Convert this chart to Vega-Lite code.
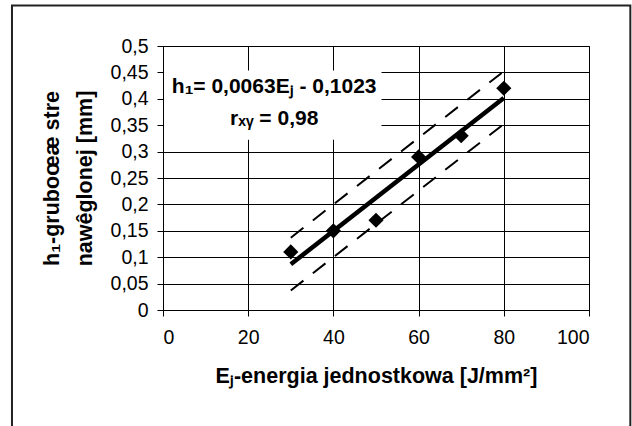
{
  "$schema": "https://vega.github.io/schema/vega-lite/v6.json",
  "width": 426,
  "height": 264,
  "autosize": "none",
  "padding": {"left": 163, "top": 46, "right": 43, "bottom": 116},
  "background": "white",
  "config": {
    "view": {"stroke": "black", "strokeWidth": 1},
    "font": "Liberation Sans",
    "axis": {
      "grid": true,
      "gridColor": "black",
      "gridOpacity": 1,
      "gridWidth": 1,
      "domainColor": "black",
      "domainWidth": 1,
      "tickColor": "black",
      "tickWidth": 1,
      "tickSize": 6,
      "labelColor": "black",
      "labelFont": "Liberation Sans",
      "labelFontSize": 19.5,
      "labelFontWeight": "normal",
      "titleColor": "black",
      "titleFont": "Liberation Sans",
      "titleFontSize": 21.5,
      "titleFontWeight": "bold"
    }
  },
  "resolve": {"axis": {"x": "independent", "y": "independent"}},
  "datasets": {
    "points": [
      {"E": 30, "h": 0.11},
      {"E": 40, "h": 0.15},
      {"E": 50, "h": 0.17},
      {"E": 60, "h": 0.29},
      {"E": 70, "h": 0.33},
      {"E": 80, "h": 0.42}
    ],
    "fit": [
      {"E": 30, "h": 0.0867},
      {"E": 80, "h": 0.4017}
    ],
    "upper": [
      {"E": 30, "h": 0.137},
      {"E": 79.5, "h": 0.449}
    ],
    "lower": [
      {"E": 30, "h": 0.037},
      {"E": 79.5, "h": 0.349}
    ],
    "equation": [
      {"line1": "h₁= 0,0063Eⱼ - 0,1023", "line2": "rₓᵧ = 0,98"}
    ]
  },
  "layer": [
    {
      "data": {"name": "equation"},
      "mark": {"type": "rect", "fill": "white", "strokeWidth": 0},
      "encoding": {
        "x": {
          "datum": 0.25,
          "type": "quantitative",
          "scale": {"domain": [0, 100], "nice": false, "zero": false},
          "axis": {
            "values": [0, 20, 40, 60, 80, 100],
            "labelPadding": 12,
            "titlePadding": 19,
            "title": "Eⱼ-energia jednostkowa [J/mm²]"
          }
        },
        "x2": {"datum": 51.3},
        "y": {
          "datum": 0.3225,
          "type": "quantitative",
          "scale": {"domain": [0, 0.5], "nice": false, "zero": false},
          "axis": {
            "values": [0, 0.05, 0.1, 0.15, 0.2, 0.25, 0.3, 0.35, 0.4, 0.45, 0.5],
            "labelExpr": "replace(format(datum.value, '.2~f'), '.', ',')",
            "labelPadding": 9,
            "titlePadding": 14,
            "titleLineHeight": 33,
            "title": ["h₁-gruboœæ stre", "nawêglonej [mm]"]
          }
        },
        "y2": {"datum": 0.4535}
      }
    },
    {
      "data": {"name": "equation"},
      "mark": {
        "type": "text",
        "font": "Liberation Sans",
        "fontSize": 21,
        "fontWeight": "bold",
        "color": "black",
        "align": "center",
        "baseline": "middle"
      },
      "encoding": {
        "x": {"datum": 26.1, "type": "quantitative", "axis": null},
        "y": {"datum": 0.4215, "type": "quantitative", "axis": null},
        "text": {"field": "line1", "type": "nominal"}
      }
    },
    {
      "data": {"name": "equation"},
      "mark": {
        "type": "text",
        "font": "Liberation Sans",
        "fontSize": 21,
        "fontWeight": "bold",
        "color": "black",
        "align": "center",
        "baseline": "middle"
      },
      "encoding": {
        "x": {"datum": 26.1, "type": "quantitative", "axis": null},
        "y": {"datum": 0.3625, "type": "quantitative", "axis": null},
        "text": {"field": "line2", "type": "nominal"}
      }
    },
    {
      "data": {"name": "upper"},
      "mark": {"type": "line", "color": "black", "strokeWidth": 2, "strokeDash": [16, 12]},
      "encoding": {
        "x": {"field": "E", "type": "quantitative", "axis": null},
        "y": {"field": "h", "type": "quantitative", "axis": null}
      }
    },
    {
      "data": {"name": "lower"},
      "mark": {"type": "line", "color": "black", "strokeWidth": 2, "strokeDash": [16, 12]},
      "encoding": {
        "x": {"field": "E", "type": "quantitative", "axis": null},
        "y": {"field": "h", "type": "quantitative", "axis": null}
      }
    },
    {
      "data": {"name": "fit"},
      "mark": {"type": "line", "color": "black", "strokeWidth": 4.5, "strokeCap": "butt"},
      "encoding": {
        "x": {"field": "E", "type": "quantitative", "axis": null},
        "y": {"field": "h", "type": "quantitative", "axis": null}
      }
    },
    {
      "data": {"name": "points"},
      "mark": {"type": "point", "shape": "diamond", "filled": true, "color": "black", "size": 230, "opacity": 1},
      "encoding": {
        "x": {"field": "E", "type": "quantitative", "axis": null},
        "y": {"field": "h", "type": "quantitative", "axis": null}
      }
    },
    {
      "data": {"name": "equation"},
      "mark": {"type": "rect", "filled": false, "stroke": "#222222", "strokeWidth": 2, "clip": false},
      "encoding": {
        "x": {"datum": -35.45, "type": "quantitative", "axis": null},
        "x2": {"datum": 109.7},
        "y": {"datum": 0.5767, "type": "quantitative", "axis": null},
        "y2": {"datum": -0.25}
      }
    }
  ]
}
